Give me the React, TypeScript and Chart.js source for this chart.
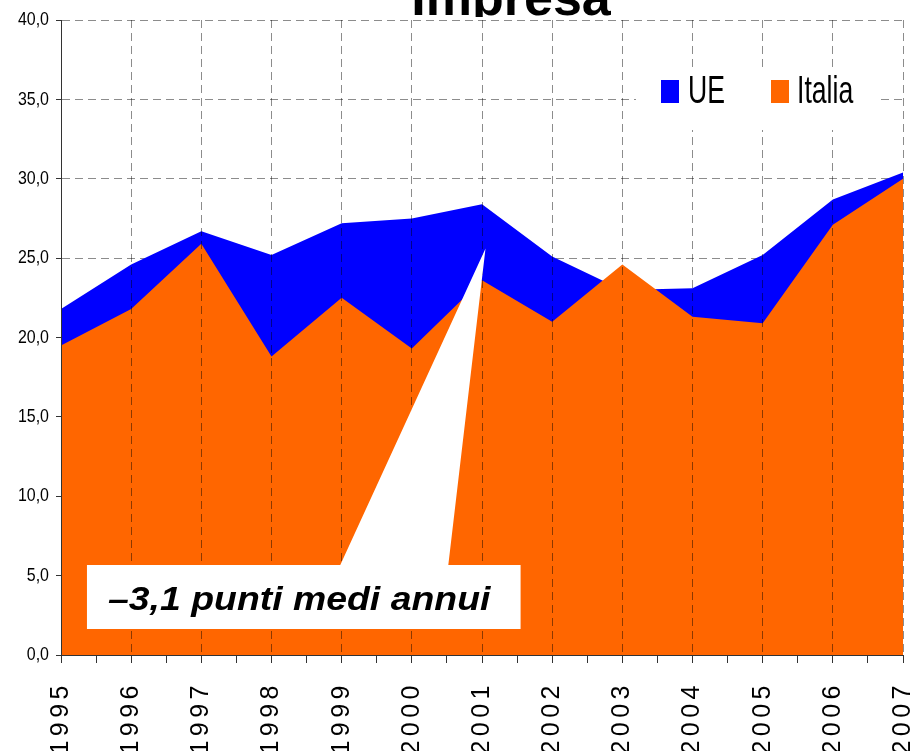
import React, { useEffect, useRef } from 'react';
import { Chart, registerables } from 'chart.js';

Chart.register(...registerables);

// ---- data ----
const years = ['1995', '1996', '1997', '1998', '1999', '2000', '2001', '2002', '2003', '2004', '2005', '2006', '2007'];
const ueValues = [21.8, 24.6, 26.7, 25.2, 27.2, 27.5, 28.4, 25.1, 23.0, 23.1, 25.2, 28.7, 30.4];
const italiaValues = [19.5, 21.8, 25.9, 18.8, 22.5, 19.3, 23.6, 21.0, 24.6, 21.3, 20.9, 27.1, 30.0];
const seriesLabels = ['UE', 'Italia'];
const seriesColors = ['#0000FF', '#FF6600'];
const yMin = 0;
const yMax = 40;
const yStep = 5;
const titleText = 'Impresa';
const calloutText = '\u20133,1 punti medi annui';
// callout geometry in data units (x = year index, y = value)
const calloutBox = { x0: 0.37, x1: 6.55, yTop: 5.67, yBottom: 1.64 };
const calloutWedge = { left: 3.98, right: 5.52, tipX: 6.05, tipY: 25.6 };
const calloutTextAnchor = { x: 0.67, y: 2.83 };

const SANS = '"Liberation Sans", Arial, sans-serif';
const GRID = 'rgba(0,0,0,0.45)';
const AXIS = '#333333';

const toPoints = (vals: number[]) => vals.map((v, i) => ({ x: i, y: v }));

const overlayPlugin = {
  id: 'overlay',
  beforeDraw(chart: any) {
    const xs = chart.scales.x;
    if (xs && !xs.__patched) {
      const orig = xs.drawLabels.bind(xs);
      xs.drawLabels = (area: any) => {
        const ctx = chart.ctx;
        ctx.save();
        (ctx as any).letterSpacing = '4.5px';
        orig(area);
        ctx.restore();
      };
      xs.__patched = true;
    }
    const ys = chart.scales.y;
    if (ys && !ys.__patched) {
      const origY = ys.drawLabels.bind(ys);
      ys.drawLabels = (area: any) => {
        const ctx = chart.ctx;
        const pivot = ys.right - 12;
        ctx.save();
        ctx.translate(pivot, 0);
        ctx.scale(0.84, 1);
        ctx.translate(-pivot, 0);
        origY(area);
        ctx.restore();
      };
      ys.__patched = true;
    }
  },
  afterDraw(chart: any) {
    const ctx = chart.ctx;
    const xs = chart.scales.x;
    const ys = chart.scales.y;

    // title (partly outside the page, as in the reference)
    ctx.save();
    ctx.beginPath();
    ctx.rect(0, 0, chart.width, 17);
    ctx.clip();
    ctx.font = 'bold 52px ' + SANS;
    ctx.fillStyle = '#000';
    ctx.textAlign = 'center';
    ctx.textBaseline = 'alphabetic';
    ctx.fillText(titleText, 511, 14.5);
    ctx.restore();

    // callout
    const bx0 = xs.getPixelForValue(calloutBox.x0);
    const bx1 = xs.getPixelForValue(calloutBox.x1);
    const byT = ys.getPixelForValue(calloutBox.yTop);
    const byB = ys.getPixelForValue(calloutBox.yBottom);
    const wl = xs.getPixelForValue(calloutWedge.left);
    const wr = xs.getPixelForValue(calloutWedge.right);
    const tx = xs.getPixelForValue(calloutWedge.tipX);
    const ty = ys.getPixelForValue(calloutWedge.tipY);
    ctx.save();
    ctx.fillStyle = '#FFFFFF';
    ctx.beginPath();
    ctx.moveTo(bx0, byT);
    ctx.lineTo(wl, byT);
    ctx.lineTo(tx, ty);
    ctx.lineTo(wr, byT);
    ctx.lineTo(bx1, byT);
    ctx.lineTo(bx1, byB);
    ctx.lineTo(bx0, byB);
    ctx.closePath();
    ctx.fill();
    const ttx = xs.getPixelForValue(calloutTextAnchor.x);
    const tty = ys.getPixelForValue(calloutTextAnchor.y);
    ctx.translate(ttx, tty);
    ctx.scale(1.1, 1);
    ctx.font = 'italic bold 34px ' + SANS;
    ctx.fillStyle = '#000';
    ctx.textAlign = 'left';
    ctx.textBaseline = 'alphabetic';
    ctx.fillText(calloutText, 0, 0);
    ctx.restore();

    // legend
    ctx.save();
    ctx.fillStyle = '#FFFFFF';
    ctx.fillRect(636, 67, 240, 63);
    const items = [
      { box: 661, text: 688 },
      { box: 771, text: 797 },
    ];
    [0, 1].forEach((di, k) => {
      const ds = chart.data.datasets[di];
      ctx.fillStyle = ds.backgroundColor;
      ctx.fillRect(items[k].box, 80, 18, 23);
      ctx.save();
      ctx.translate(items[k].text, 103);
      ctx.scale(0.7, 1);
      ctx.font = '38px ' + SANS;
      ctx.fillStyle = '#000';
      ctx.textAlign = 'left';
      ctx.textBaseline = 'alphabetic';
      ctx.fillText(ds.label, 0, 0);
      ctx.restore();
    });
    ctx.restore();
  },
};

export default function App() {
  const ref = useRef<HTMLCanvasElement>(null);
  useEffect(() => {
    const chart = new Chart(ref.current as HTMLCanvasElement, {
      type: 'line',
      data: {
        datasets: [
          {
            label: seriesLabels[0],
            data: toPoints(ueValues),
            backgroundColor: seriesColors[0],
            borderColor: 'rgba(0,0,0,0)',
            borderWidth: 0,
            pointRadius: 0,
            fill: 'origin',
            tension: 0,
            order: 2,
          },
          {
            label: seriesLabels[1],
            data: toPoints(italiaValues),
            backgroundColor: seriesColors[1],
            borderColor: 'rgba(0,0,0,0)',
            borderWidth: 0,
            pointRadius: 0,
            fill: 'origin',
            tension: 0,
            order: 1,
          },
        ],
      },
      options: {
        animation: false,
        responsive: true,
        maintainAspectRatio: false,
        layout: { padding: { top: 20, right: 14, left: 0, bottom: 0 } },
        plugins: {
          legend: { display: false },
          title: { display: false },
          tooltip: { enabled: false },
        },
        scales: {
          x: {
            type: 'linear',
            min: 0,
            max: years.length - 1,
            afterFit: (s: any) => {
              s.height = 145;
              s.paddingLeft = 0;
              s.paddingRight = 0;
            },
            ticks: {
              stepSize: 0.5,
              autoSkip: false,
              maxRotation: 90,
              minRotation: 90,
              padding: 18,
              color: '#000',
              font: { family: SANS, size: 25 },
              callback: (v: any) => (Number.isInteger(v) ? years[v] : ''),
            },
            grid: {
              z: 1,
              color: (c: any) => (c.tick && Number.isInteger(c.tick.value) ? GRID : 'rgba(0,0,0,0)'),
              lineWidth: 1,
              tickLength: 8,
              tickColor: AXIS,
              tickWidth: 1,
            },
            border: { display: true, color: AXIS, width: 1, dash: [8, 5], z: 2 },
          },
          y: {
            min: yMin,
            max: yMax,
            afterFit: (s: any) => {
              s.width = 61;
            },
            ticks: {
              stepSize: yStep,
              padding: 7,
              color: '#000',
              font: { family: SANS, size: 19 },
              callback: (v: any) => Number(v).toFixed(1).replace('.', ','),
            },
            grid: {
              color: GRID,
              lineWidth: 1,
              tickLength: 5,
              tickColor: AXIS,
            },
            border: { display: true, color: AXIS, width: 1, dash: [8, 5], z: 2 },
          },
        },
      },
      plugins: [overlayPlugin],
    } as any);
    return () => chart.destroy();
  }, []);

  return (
    <div
      style={{
        position: 'absolute',
        left: 0,
        top: 0,
        width: 917,
        height: 751,
        overflow: 'hidden',
        background: '#fff',
      }}
    >
      <div style={{ position: 'relative', width: 917, height: 800 }}>
        <canvas ref={ref} />
      </div>
    </div>
  );
}
